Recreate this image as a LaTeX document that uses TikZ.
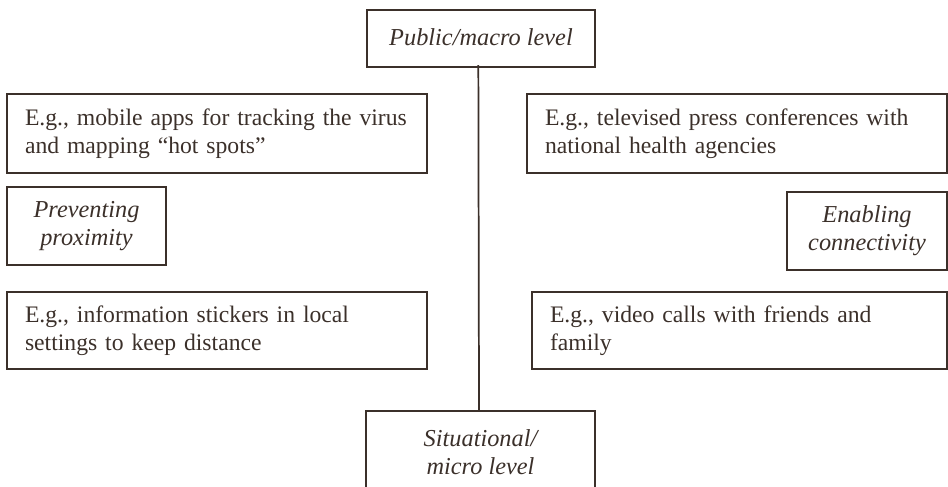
\documentclass[tikz,border=0pt]{standalone}
\usepackage{fontspec}
\setmainfont{Liberation Serif}
\definecolor{ink}{HTML}{3B302A}
\begin{document}
\begin{tikzpicture}[x=0.75pt,y=-0.75pt,
  box/.style={draw=ink,line width=1.3pt,text=ink,rectangle,inner sep=0pt,
    font=\fontsize{17.75}{21}\selectfont},
  egbox/.style={box,align=left,inner xsep=13.5pt},
  itbox/.style={box,align=center,font=\fontsize{18.25}{21}\selectfont\itshape},
  link/.style={draw=ink,line width=1.3pt}]
\clip (0,0) rectangle (948,486);
\useasboundingbox (0,0) rectangle (948,486);
\node[itbox,minimum width=171pt,minimum height=42.75pt] (top) at (481,38.5) {\raisebox{2pt}{Public/macro level}};
\node[itbox,minimum width=171.75pt,minimum height=61.5pt] (bot) at (480.5,452) {Situational/\\micro level};
\node[egbox,text width=288pt,minimum height=59.25pt] (lt) at (217,133.5)
  {\mbox{E.g., mobile apps for tracking the virus}\\\mbox{and mapping “hot spots”}};
\node[itbox,minimum width=119.25pt,minimum height=58.5pt] (lp) at (86.5,226) {Preventing\\proximity};
\node[egbox,text width=288pt,minimum height=57.75pt] (lb) at (217,330.5)
  {\mbox{E.g., information stickers in local}\\\mbox{settings to keep distance}};
\node[egbox,text width=288pt,minimum height=59.25pt] (rt) at (737,133.5)
  {\mbox{E.g., televised press conferences with}\\\mbox{national health agencies}};
\node[itbox,minimum width=120pt,minimum height=58.5pt] (re) at (867,231) {Enabling\\connectivity};
\node[egbox,text width=284.25pt,minimum height=57.75pt] (rb) at (739.5,330.5)
  {\mbox{E.g., video calls with friends and}\\\mbox{family}};
\draw[link] ([xshift=-2pt,yshift=2pt]top.south) -- ([xshift=-1.5pt]top.south |- bot.north);
\end{tikzpicture}
\end{document}
